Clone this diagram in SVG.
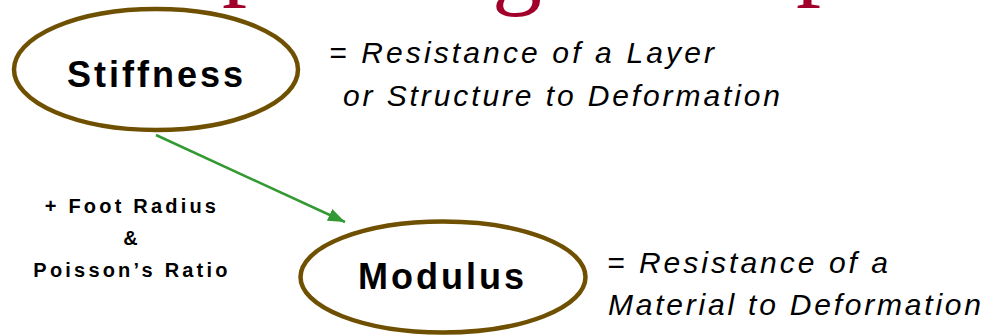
<svg xmlns="http://www.w3.org/2000/svg" width="993" height="336" viewBox="0 0 993 336">
<style>
.node ellipse{fill:#fff;stroke:#6E5000;stroke-width:4.5}
.nl{font-family:"Liberation Sans",Arial,sans-serif;font-weight:bold;font-size:36px;letter-spacing:3px;fill:#000}
.def{font-family:"Liberation Sans",Arial,sans-serif;font-style:italic;font-size:30px;fill:#000}
.lab{font-family:"Liberation Sans",Arial,sans-serif;font-weight:bold;font-size:20px;letter-spacing:3.2px;fill:#000}
.title{font-family:"Liberation Serif","Times New Roman",serif;font-size:100px;fill:#A0002A}
.conn{stroke:#339933;stroke-width:2.5;fill:none}
</style>
<defs>
<marker id="ah" viewBox="0 0 10 10" refX="10" refY="5" markerWidth="17" markerHeight="13" markerUnits="userSpaceOnUse" orient="auto" preserveAspectRatio="none">
<path d="M0,0 L10,5 L0,10 z" fill="#339933"/>
</marker>
</defs>
<g id="title">
<text class="title" x="222" y="-13">p</text>
<text class="title" x="492" y="-4">g</text>
<text class="title" x="796" y="-13">p</text>
</g>
<g id="connectors">
<line class="conn" x1="156" y1="135" x2="345" y2="222" marker-end="url(#ah)"/>
</g>
<g id="stiffness" class="node">
<ellipse cx="156" cy="69.5" rx="142" ry="60.5"/>
<text class="nl" x="67" y="87">Stiffness</text>
</g>
<g id="modulus" class="node">
<ellipse cx="443" cy="277" rx="142.5" ry="55.5"/>
<text class="nl" x="358" y="289">Modulus</text>
</g>
<g id="stiffness-def">
<text class="def" x="329" y="63" textLength="385" lengthAdjust="spacing">= Resistance of a Layer</text>
<text class="def" x="343" y="106" textLength="437" lengthAdjust="spacing">or Structure to Deformation</text>
</g>
<g id="modulus-def">
<text class="def" x="607" y="273" textLength="281" lengthAdjust="spacing">= Resistance of a</text>
<text class="def" x="608" y="315" textLength="373" lengthAdjust="spacing">Material to Deformation</text>
</g>
<g id="label">
<text class="lab" x="132" y="213" text-anchor="middle">+ Foot Radius</text>
<text class="lab" x="132" y="245" text-anchor="middle">&amp;</text>
<text class="lab" x="132" y="277" text-anchor="middle">Poisson’s Ratio</text>
</g>
</svg>
